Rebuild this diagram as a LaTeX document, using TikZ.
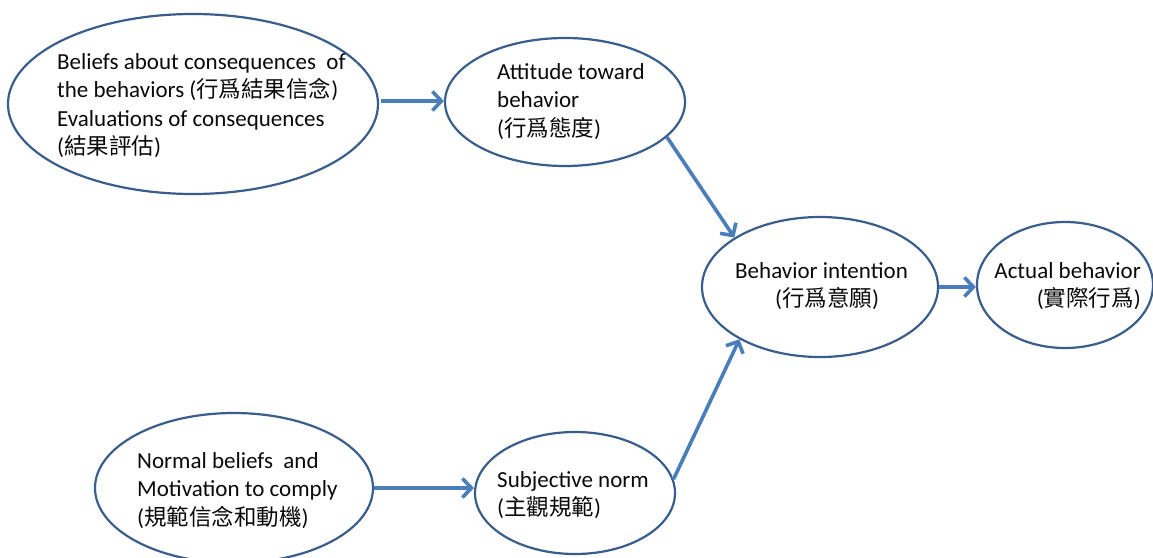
\documentclass[tikz,border=0pt]{standalone}
\usepackage{fontspec}
\setmainfont{Carlito}
\newfontfamily\cjk{Noto Sans CJK TC}
\usetikzlibrary{shapes.geometric,arrows.meta}
\definecolor{edgeblue}{RGB}{58,94,140}
\definecolor{arrowblue}{RGB}{74,126,187}
\definecolor{txt}{RGB}{10,10,10}
\tikzset{
  oval/.style={ellipse, draw=edgeblue, line width=2.2pt, fill=white, inner sep=0pt},
  lbl/.style={align=left, inner sep=0pt, text=txt, font=\fontsize{23}{28.5}\selectfont},
  arr/.style={draw=arrowblue, line width=3.6pt, -{Straight Barb[length=9pt,width=19pt]}}
}
\newcommand{\zh}[1]{{\cjk\fontsize{22.5}{28.5}\selectfont #1}}
\begin{document}
\begin{tikzpicture}[x=1pt,y=-1pt]
\useasboundingbox (0,0) rectangle (1153,557);
\fill[white] (0,0) rectangle (1153,557);
% ellipses
\node[oval, minimum width=370pt, minimum height=180pt] (bel) at (193,104) {};
\node[oval, minimum width=240pt, minimum height=128pt] (att) at (565,102) {};
\node[oval, minimum width=236pt, minimum height=140pt] (bi) at (820,287) {};
\node[oval, minimum width=176pt, minimum height=126pt] (act) at (1065,285) {};
\node[oval, minimum width=278pt, minimum height=150pt] (nor) at (234,488) {};
\node[oval, minimum width=200pt, minimum height=122pt] (sub) at (575,493) {};
% texts
\node[lbl, anchor=north west] (belT) at (57,53) {Beliefs about consequences\ \ of\\the behaviors (\zh{行爲結果信念})\\Evaluations of consequences\\(\zh{結果評估})};
\node[lbl, anchor=north west] (attT) at (497,63) {Attitude toward\\behavior\\(\zh{行爲態度})};
\node[lbl, anchor=north west] (biT) at (735,262) {Behavior intention\\\hspace*{40pt}(\zh{行爲意願})};
\node[lbl, anchor=north east, align=right] (actT) at (1141,262) {Actual behavior\\(\zh{實際行爲})};
\node[lbl, anchor=north west] (norT) at (137,452) {Normal beliefs\ \ and\\Motivation to comply\\(\zh{規範信念和動機})};
\node[lbl, anchor=north west] (subT) at (497,471) {Subjective norm\\(\zh{主觀規範})};
% arrows
\draw[arr] (bel.east) ++(2,-3) coordinate (b1) -- (b1 -| att.west);
\draw[arr] (att.-19) -- (bi.150);
\draw[arr] (sub.8) -- (bi.213);
\draw[arr] (bi.east) -- (bi.east -| act.west);
\draw[arr] (nor.east) -- (nor.east -| sub.west);
\end{tikzpicture}
\end{document}
